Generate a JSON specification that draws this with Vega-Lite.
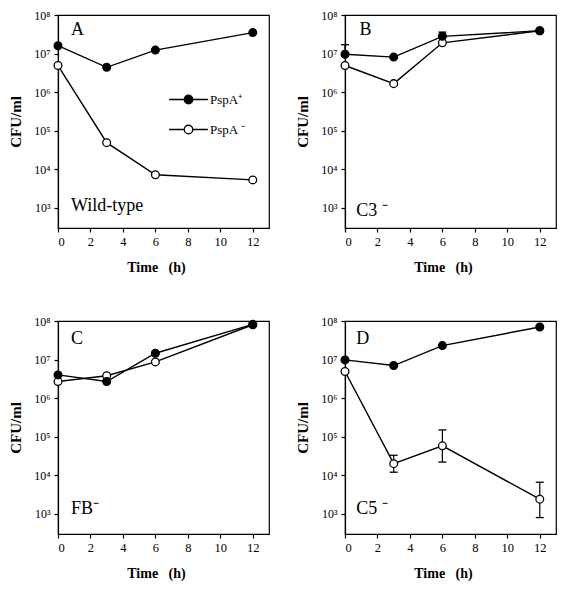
{
  "$schema": "https://vega.github.io/schema/vega-lite/v6.json",
  "padding": {"left": 8, "top": 8, "right": 5, "bottom": 5},
  "background": "white",
  "config": {
    "font": "Liberation Serif",
    "view": {"stroke": "black", "strokeWidth": 1.2},
    "axis": {"grid": false, "domainColor": "black", "tickColor": "black", "labelColor": "black", "titleColor": "black", "labelFont": "Liberation Serif", "titleFont": "Liberation Serif", "labelFontSize": 13, "titleFontSize": 14, "titleFontWeight": "bold", "tickSize": 4, "domainWidth": 1.2, "tickWidth": 1.2},
    "point": {"filled": true, "stroke": "black", "strokeWidth": 1.3, "size": 60, "opacity": 1},
    "line": {"color": "black", "strokeWidth": 1.4},
    "rule": {"color": "black", "strokeWidth": 1.2},
    "tick": {"color": "black", "thickness": 1.3, "opacity": 1},
    "text": {"font": "Liberation Serif", "fontSize": 18, "color": "black", "align": "left", "baseline": "middle"}
  },
  "data": {"values": [
    {"panel": "A", "kind": "pt", "series": "PspA-", "t": 0, "cfu": 4900000},
    {"panel": "A", "kind": "pt", "series": "PspA-", "t": 3, "cfu": 49000},
    {"panel": "A", "kind": "pt", "series": "PspA-", "t": 6, "cfu": 7200},
    {"panel": "A", "kind": "pt", "series": "PspA-", "t": 12, "cfu": 5300},
    {"panel": "A", "kind": "pt", "series": "PspA+", "t": 0, "cfu": 16000000},
    {"panel": "A", "kind": "pt", "series": "PspA+", "t": 3, "cfu": 4400000},
    {"panel": "A", "kind": "pt", "series": "PspA+", "t": 6, "cfu": 12300000},
    {"panel": "A", "kind": "pt", "series": "PspA+", "t": 12, "cfu": 35000000},
    {"panel": "B", "kind": "pt", "series": "PspA-", "t": 0, "cfu": 4900000},
    {"panel": "B", "kind": "pt", "series": "PspA-", "t": 3, "cfu": 1660000},
    {"panel": "B", "kind": "pt", "series": "PspA-", "t": 6, "cfu": 19000000},
    {"panel": "B", "kind": "pt", "series": "PspA-", "t": 12, "cfu": 39000000},
    {"panel": "B", "kind": "pt", "series": "PspA+", "t": 0, "cfu": 9600000},
    {"panel": "B", "kind": "pt", "series": "PspA+", "t": 3, "cfu": 8100000},
    {"panel": "B", "kind": "pt", "series": "PspA+", "t": 6, "cfu": 28000000},
    {"panel": "B", "kind": "pt", "series": "PspA+", "t": 12, "cfu": 39000000},
    {"panel": "C", "kind": "pt", "series": "PspA-", "t": 0, "cfu": 2700000},
    {"panel": "C", "kind": "pt", "series": "PspA-", "t": 3, "cfu": 3800000},
    {"panel": "C", "kind": "pt", "series": "PspA-", "t": 6, "cfu": 8700000},
    {"panel": "C", "kind": "pt", "series": "PspA-", "t": 12, "cfu": 80000000},
    {"panel": "C", "kind": "pt", "series": "PspA+", "t": 0, "cfu": 4000000},
    {"panel": "C", "kind": "pt", "series": "PspA+", "t": 3, "cfu": 2700000},
    {"panel": "C", "kind": "pt", "series": "PspA+", "t": 6, "cfu": 14600000},
    {"panel": "C", "kind": "pt", "series": "PspA+", "t": 12, "cfu": 82000000},
    {"panel": "D", "kind": "pt", "series": "PspA-", "t": 0, "cfu": 4900000},
    {"panel": "D", "kind": "pt", "series": "PspA-", "t": 3, "cfu": 20000},
    {"panel": "D", "kind": "pt", "series": "PspA-", "t": 6, "cfu": 58000},
    {"panel": "D", "kind": "pt", "series": "PspA-", "t": 12, "cfu": 2400},
    {"panel": "D", "kind": "pt", "series": "PspA+", "t": 0, "cfu": 9800000},
    {"panel": "D", "kind": "pt", "series": "PspA+", "t": 3, "cfu": 7000000},
    {"panel": "D", "kind": "pt", "series": "PspA+", "t": 6, "cfu": 23000000},
    {"panel": "D", "kind": "pt", "series": "PspA+", "t": 12, "cfu": 70000000},
    {"panel": "B", "kind": "err", "t": 0, "cfu": 9600000, "hi": 17000000},
    {"panel": "B", "kind": "err", "t": 6, "cfu": 28000000, "hi": 36000000},
    {"panel": "D", "kind": "err", "t": 3, "cfu": 12000, "hi": 33000},
    {"panel": "D", "kind": "err", "t": 6, "cfu": 22000, "hi": 150000},
    {"panel": "D", "kind": "err", "t": 12, "cfu": 800, "hi": 6600},
    {"panel": "B", "kind": "cap", "t": 0, "cfu": 17000000},
    {"panel": "B", "kind": "cap", "t": 6, "cfu": 36000000},
    {"panel": "D", "kind": "cap", "t": 3, "cfu": 12000},
    {"panel": "D", "kind": "cap", "t": 3, "cfu": 33000},
    {"panel": "D", "kind": "cap", "t": 6, "cfu": 22000},
    {"panel": "D", "kind": "cap", "t": 6, "cfu": 150000},
    {"panel": "D", "kind": "cap", "t": 12, "cfu": 800},
    {"panel": "D", "kind": "cap", "t": 12, "cfu": 6600},
    {"panel": "A", "kind": "lab", "t": 0.8, "cfu": 41000000, "label": "A"},
    {"panel": "B", "kind": "lab", "t": 0.9, "cfu": 40000000, "label": "B"},
    {"panel": "C", "kind": "lab", "t": 0.8, "cfu": 35000000, "label": "C"},
    {"panel": "D", "kind": "lab", "t": 0.7, "cfu": 35000000, "label": "D"},
    {"panel": "A", "kind": "lab", "t": 0.8, "cfu": 1120, "label": "Wild-type"},
    {"panel": "B", "kind": "lab", "t": 0.7, "cfu": 850, "label": "C3 ⁻"},
    {"panel": "C", "kind": "lab", "t": 0.8, "cfu": 1320, "label": "FB⁻"},
    {"panel": "D", "kind": "lab", "t": 0.7, "cfu": 1320, "label": "C5 ⁻"}
  ]},
  "columns": 2,
  "spacing": {"column": 76, "row": 93},
  "bounds": "flush",
  "concat": [
    {
      "transform": [{"filter": "datum.panel == 'A'"}],
      "width": 211, "height": 213,
      "encoding": {
        "x": {"field": "t", "type": "quantitative", "scale": {"domain": [0, 13], "nice": false, "zero": false}, "axis": {"values": [0, 2, 4, 6, 8, 10, 12], "title": "Time\u00a0\u00a0\u00a0(h)", "titleX": 98, "labelFontSize": 12.5, "labelPadding": 3, "titlePadding": 13}},
        "y": {"field": "cfu", "type": "quantitative", "scale": {"type": "log", "domain": [300, 100000000], "nice": false}, "axis": {"values": [1000, 10000, 100000, 1000000, 10000000, 100000000], "labelExpr": "'10' + ['⁰','¹','²','³','⁴','⁵','⁶','⁷','⁸'][round(log(datum.value)/LN10)]", "labelFontSize": 12, "title": "CFU/ml", "titleFontSize": 15, "labelPadding": 4, "titlePadding": 10}}
      },
      "layer": [
        {"transform": [{"filter": "datum.kind == 'err'"}], "mark": "rule", "encoding": {"y2": {"field": "hi"}}},
        {"transform": [{"filter": "datum.kind == 'cap'"}], "mark": {"type": "tick", "orient": "horizontal", "size": 8}},
        {"transform": [{"filter": "datum.kind == 'pt'"}], "mark": "line", "encoding": {"detail": {"field": "series"}}},
        {"transform": [{"filter": "datum.kind == 'pt'"}], "mark": "point",
          "encoding": {"fill": {"field": "series", "type": "nominal", "scale": {"domain": ["PspA+", "PspA-"], "range": ["black", "white"]},
            "legend": {"orient": "none", "legendX": 110, "legendY": 64, "title": null, "symbolType": "M-1,0H-0.22M0.22,0H1M0.22,0A0.22,0.22,0,1,1,-0.22,0A0.22,0.22,0,1,1,0.22,0Z", "symbolSize": 1500, "symbolStrokeColor": "black", "symbolStrokeWidth": 1.3, "labelFont": "Liberation Serif", "labelFontSize": 13, "labelColor": "black", "labelOffset": 1, "labelExpr": "datum.label == 'PspA+' ? 'PspA⁺' : 'PspA ⁻'"}}}},
        {"transform": [{"filter": "datum.kind == 'lab'"}], "mark": "text", "encoding": {"text": {"field": "label"}}}
      ]
    },
    {
      "transform": [{"filter": "datum.panel == 'B'"}],
      "width": 211, "height": 213,
      "encoding": {
        "x": {"field": "t", "type": "quantitative", "scale": {"domain": [0, 13], "nice": false, "zero": false}, "axis": {"values": [0, 2, 4, 6, 8, 10, 12], "title": "Time\u00a0\u00a0\u00a0(h)", "titleX": 98, "labelFontSize": 12.5, "labelPadding": 3, "titlePadding": 13}},
        "y": {"field": "cfu", "type": "quantitative", "scale": {"type": "log", "domain": [300, 100000000], "nice": false}, "axis": {"values": [1000, 10000, 100000, 1000000, 10000000, 100000000], "labelExpr": "'10' + ['⁰','¹','²','³','⁴','⁵','⁶','⁷','⁸'][round(log(datum.value)/LN10)]", "labelFontSize": 12, "title": "CFU/ml", "titleFontSize": 15, "labelPadding": 4, "titlePadding": 10}}
      },
      "layer": [
        {"transform": [{"filter": "datum.kind == 'err'"}], "mark": "rule", "encoding": {"y2": {"field": "hi"}}},
        {"transform": [{"filter": "datum.kind == 'cap'"}], "mark": {"type": "tick", "orient": "horizontal", "size": 8}},
        {"transform": [{"filter": "datum.kind == 'pt'"}], "mark": "line", "encoding": {"detail": {"field": "series"}}},
        {"transform": [{"filter": "datum.kind == 'pt'"}], "mark": "point", "encoding": {"fill": {"field": "series", "type": "nominal"}}},
        {"transform": [{"filter": "datum.kind == 'lab'"}], "mark": "text", "encoding": {"text": {"field": "label"}}}
      ]
    },
    {
      "transform": [{"filter": "datum.panel == 'C'"}],
      "width": 211, "height": 213,
      "encoding": {
        "x": {"field": "t", "type": "quantitative", "scale": {"domain": [0, 13], "nice": false, "zero": false}, "axis": {"values": [0, 2, 4, 6, 8, 10, 12], "title": "Time\u00a0\u00a0\u00a0(h)", "titleX": 98, "labelFontSize": 12.5, "labelPadding": 3, "titlePadding": 13}},
        "y": {"field": "cfu", "type": "quantitative", "scale": {"type": "log", "domain": [300, 100000000], "nice": false}, "axis": {"values": [1000, 10000, 100000, 1000000, 10000000, 100000000], "labelExpr": "'10' + ['⁰','¹','²','³','⁴','⁵','⁶','⁷','⁸'][round(log(datum.value)/LN10)]", "labelFontSize": 12, "title": "CFU/ml", "titleFontSize": 15, "labelPadding": 4, "titlePadding": 10}}
      },
      "layer": [
        {"transform": [{"filter": "datum.kind == 'pt'"}], "mark": "line", "encoding": {"detail": {"field": "series"}}},
        {"transform": [{"filter": "datum.kind == 'pt'"}], "mark": "point", "encoding": {"fill": {"field": "series", "type": "nominal"}}},
        {"transform": [{"filter": "datum.kind == 'lab'"}], "mark": "text", "encoding": {"text": {"field": "label"}}}
      ]
    },
    {
      "transform": [{"filter": "datum.panel == 'D'"}],
      "width": 211, "height": 213,
      "encoding": {
        "x": {"field": "t", "type": "quantitative", "scale": {"domain": [0, 13], "nice": false, "zero": false}, "axis": {"values": [0, 2, 4, 6, 8, 10, 12], "title": "Time\u00a0\u00a0\u00a0(h)", "titleX": 98, "labelFontSize": 12.5, "labelPadding": 3, "titlePadding": 13}},
        "y": {"field": "cfu", "type": "quantitative", "scale": {"type": "log", "domain": [300, 100000000], "nice": false}, "axis": {"values": [1000, 10000, 100000, 1000000, 10000000, 100000000], "labelExpr": "'10' + ['⁰','¹','²','³','⁴','⁵','⁶','⁷','⁸'][round(log(datum.value)/LN10)]", "labelFontSize": 12, "title": "CFU/ml", "titleFontSize": 15, "labelPadding": 4, "titlePadding": 10}}
      },
      "layer": [
        {"transform": [{"filter": "datum.kind == 'err'"}], "mark": "rule", "encoding": {"y2": {"field": "hi"}}},
        {"transform": [{"filter": "datum.kind == 'cap'"}], "mark": {"type": "tick", "orient": "horizontal", "size": 8}},
        {"transform": [{"filter": "datum.kind == 'pt'"}], "mark": "line", "encoding": {"detail": {"field": "series"}}},
        {"transform": [{"filter": "datum.kind == 'pt'"}], "mark": "point", "encoding": {"fill": {"field": "series", "type": "nominal"}}},
        {"transform": [{"filter": "datum.kind == 'lab'"}], "mark": "text", "encoding": {"text": {"field": "label"}}}
      ]
    }
  ]
}
